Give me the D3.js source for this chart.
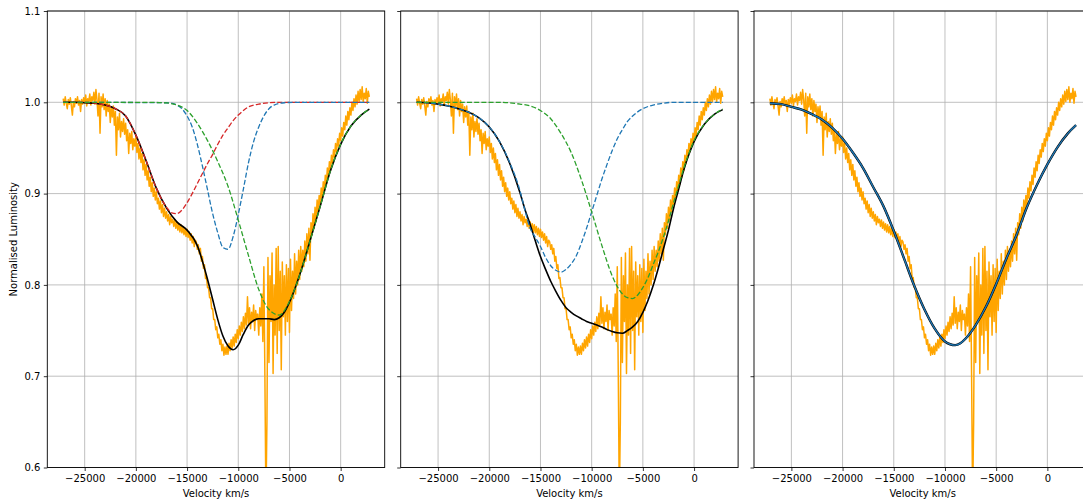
<!DOCTYPE html>
<html>
<head>
<meta charset="utf-8">
<script src="https://cdn.jsdelivr.net/npm/d3@7"></script>
<style>
  body { margin: 0; background: #fff; }
  text { font-family: "DejaVu Sans", sans-serif; fill: #000; }
</style>
</head>
<body>
<svg id="chart" width="1083" height="504"></svg>
<script>
const yTicks = [0.6, 0.7, 0.8, 0.9, 1.0, 1.1];
const xTicks = [-25000, -20000, -15000, -10000, -5000, 0];
const xLabel = "Velocity km/s";
const yLabel = "Normalised Luminosity";

// observed spectrum [velocity, normalised flux]
const spectrum = [
  [-27100,1.004],[-27000,0.997],[-26900,1.006],[-26800,0.999],[-26700,0.993],[-26600,1.003],[-26500,0.998],[-26400,1.005],[-26300,0.996],[-26200,0.986],
  [-26100,1.001],[-26000,0.995],[-25900,1.004],[-25800,0.999],[-25700,1.006],[-25600,0.997],[-25500,1.002],[-25400,0.990],[-25300,1.003],[-25200,0.998],
  [-25100,1.005],[-25000,0.999],[-24900,1.008],[-24800,0.996],[-24700,1.004],[-24600,1.001],[-24500,1.009],[-24400,0.997],[-24300,1.006],[-24200,1.002],
  [-24100,1.011],[-24000,0.998],[-23900,1.014],[-23800,1.003],[-23700,0.985],[-23600,1.010],[-23500,0.966],[-23400,1.006],[-23300,0.995],[-23200,1.009],
  [-23100,0.992],[-23000,1.004],[-22900,0.985],[-22800,1.002],[-22700,0.990],[-22600,0.998],[-22500,0.978],[-22400,0.995],[-22300,0.984],[-22200,0.996],
  [-22100,0.975],[-22000,0.990],[-21900,0.942],[-21800,0.984],[-21700,0.970],[-21600,0.988],[-21500,0.962],[-21400,0.979],[-21300,0.968],[-21200,0.982],
  [-21100,0.965],[-21000,0.977],[-20900,0.958],[-20800,0.970],[-20700,0.944],[-20600,0.966],[-20500,0.955],[-20400,0.968],[-20300,0.948],[-20200,0.960],
  [-20100,0.952],[-20000,0.962],[-19900,0.945],[-19800,0.955],[-19700,0.938],[-19600,0.950],[-19500,0.934],[-19400,0.944],[-19300,0.926],[-19200,0.937],
  [-19100,0.920],[-19000,0.932],[-18900,0.915],[-18800,0.925],[-18700,0.908],[-18600,0.918],[-18500,0.902],[-18400,0.912],[-18300,0.897],[-18200,0.906],
  [-18100,0.893],[-18000,0.902],[-17900,0.889],[-17800,0.895],[-17700,0.883],[-17600,0.892],[-17500,0.879],[-17400,0.888],[-17300,0.875],[-17200,0.884],
  [-17100,0.873],[-17000,0.880],[-16900,0.870],[-16800,0.877],[-16700,0.866],[-16600,0.875],[-16500,0.868],[-16400,0.872],[-16300,0.864],[-16200,0.871],
  [-16100,0.862],[-16000,0.869],[-15900,0.860],[-15800,0.867],[-15700,0.858],[-15600,0.866],[-15500,0.857],[-15400,0.864],[-15300,0.855],[-15200,0.862],
  [-15100,0.853],[-15000,0.861],[-14900,0.852],[-14800,0.858],[-14700,0.849],[-14600,0.856],[-14500,0.846],[-14400,0.853],[-14300,0.842],[-14200,0.849],
  [-14100,0.847],[-14000,0.839],[-13900,0.844],[-13800,0.834],[-13700,0.840],[-13600,0.826],[-13500,0.831],[-13400,0.818],[-13300,0.822],[-13200,0.807],
  [-13100,0.808],[-13000,0.797],[-12900,0.797],[-12800,0.786],[-12700,0.786],[-12600,0.774],[-12500,0.774],[-12400,0.762],[-12300,0.762],[-12200,0.751],
  [-12100,0.754],[-12000,0.742],[-11900,0.746],[-11800,0.735],[-11700,0.740],[-11600,0.728],[-11500,0.735],[-11400,0.723],[-11300,0.732],[-11200,0.724],
  [-11100,0.733],[-11000,0.724],[-10900,0.736],[-10800,0.728],[-10700,0.740],[-10600,0.731],[-10500,0.743],[-10400,0.733],[-10300,0.746],[-10200,0.737],
  [-10100,0.751],[-10000,0.741],[-9900,0.755],[-9800,0.745],[-9700,0.759],[-9600,0.749],[-9500,0.765],[-9400,0.752],[-9300,0.769],[-9200,0.756],
  [-9100,0.787],[-9000,0.758],[-8900,0.775],[-8800,0.752],[-8700,0.770],[-8600,0.760],[-8500,0.778],[-8400,0.750],[-8300,0.772],[-8200,0.762],
  [-8100,0.768],[-8000,0.745],[-7900,0.775],[-7800,0.755],[-7700,0.790],[-7600,0.738],[-7500,0.820],[-7400,0.700],[-7300,0.560],[-7200,0.650],
  [-7100,0.830],[-7000,0.715],[-6900,0.810],[-6800,0.760],[-6700,0.835],[-6600,0.703],[-6500,0.800],[-6400,0.745],[-6300,0.840],[-6200,0.725],
  [-6100,0.842],[-6000,0.750],[-5900,0.815],[-5800,0.707],[-5700,0.825],[-5600,0.765],[-5500,0.810],[-5400,0.745],[-5300,0.822],[-5200,0.760],
  [-5100,0.818],[-5000,0.748],[-4900,0.828],[-4800,0.772],[-4700,0.815],[-4600,0.785],[-4500,0.834],[-4400,0.790],[-4300,0.826],[-4200,0.800],
  [-4100,0.838],[-4000,0.806],[-3900,0.842],[-3800,0.815],[-3700,0.838],[-3600,0.820],[-3500,0.848],[-3400,0.826],[-3300,0.856],[-3200,0.834],
  [-3100,0.862],[-3000,0.827],[-2900,0.868],[-2800,0.855],[-2700,0.878],[-2600,0.862],[-2500,0.885],[-2400,0.870],[-2300,0.893],[-2200,0.880],
  [-2100,0.898],[-2000,0.888],[-1900,0.906],[-1800,0.895],[-1700,0.913],[-1600,0.903],[-1500,0.920],[-1400,0.910],[-1300,0.928],[-1200,0.918],
  [-1100,0.935],[-1000,0.925],[-900,0.942],[-800,0.933],[-700,0.948],[-600,0.940],[-500,0.955],[-400,0.946],[-300,0.960],[-200,0.952],
  [-100,0.966],[0,0.958],[100,0.972],[200,0.963],[300,0.978],[400,0.970],[500,0.985],[600,0.975],[700,0.990],[800,0.981],
  [900,0.994],[1000,0.986],[1100,1.000],[1200,0.991],[1300,1.004],[1400,0.995],[1500,1.008],[1600,0.998],[1700,1.012],[1800,1.001],
  [1900,1.014],[2000,1.003],[2100,1.017],[2200,1.000],[2300,1.010],[2400,1.004],[2500,1.015],[2600,0.999],[2700,1.012],[2800,1.006]
];

// panel 1: three-component fit
const fit1Total = [[-27100,1.000],[-26000,1.000],[-25000,0.9995],[-24000,0.999],[-23000,0.997],[-22000,0.993],[-21000,0.985],[-20000,0.964],[-19000,0.936],[-18000,0.906],[-17000,0.884],[-16000,0.869],[-15000,0.860],[-14000,0.843],[-13500,0.826],[-13000,0.806],[-12500,0.784],[-12000,0.762],[-11500,0.744],[-11000,0.733],[-10500,0.729],[-10000,0.734],[-9500,0.746],[-9000,0.756],[-8500,0.761],[-8000,0.763],[-7500,0.763],[-7000,0.763],[-6500,0.762],[-6000,0.764],[-5500,0.770],[-5000,0.781],[-4500,0.795],[-4000,0.811],[-3000,0.848],[-2000,0.886],[-1000,0.925],[0,0.954],[1000,0.974],[2000,0.986],[2800,0.9925]];
const fit1Red = [[-27100,1.000],[-25000,1.000],[-24000,0.999],[-23000,0.997],[-22000,0.993],[-21000,0.985],[-20000,0.964],[-19000,0.936],[-18000,0.906],[-17000,0.885],[-16500,0.879],[-16000,0.878],[-15500,0.882],[-15000,0.890],[-14500,0.900],[-14000,0.911],[-13500,0.922],[-13000,0.933],[-12500,0.943],[-12000,0.954],[-11500,0.964],[-11000,0.972],[-10500,0.980],[-10000,0.986],[-9500,0.991],[-9000,0.995],[-8000,0.998],[-7000,0.9995],[-6000,1.000],[2800,1.000]];
const fit1Blue = [[-27100,1.000],[-17000,0.9995],[-16000,0.997],[-15500,0.993],[-15000,0.985],[-14500,0.973],[-14000,0.954],[-13500,0.930],[-13000,0.904],[-12500,0.878],[-12000,0.857],[-11500,0.841],[-11000,0.839],[-10500,0.853],[-10000,0.877],[-9500,0.905],[-9000,0.934],[-8500,0.957],[-8000,0.973],[-7500,0.985],[-7000,0.993],[-6500,0.997],[-5500,0.9995],[-4500,1.000],[2800,1.000]];
const fit1Green = [[-27100,1.000],[-19000,1.000],[-18000,0.9998],[-17000,0.9993],[-16000,0.997],[-15000,0.991],[-14000,0.977],[-13000,0.958],[-12000,0.935],[-11000,0.908],[-10000,0.871],[-9000,0.832],[-8000,0.795],[-7000,0.773],[-6000,0.767],[-5000,0.782],[-4000,0.811],[-3000,0.848],[-2000,0.886],[-1000,0.925],[0,0.954],[1000,0.974],[2000,0.986],[2800,0.9925]];

// panel 2: two-component fit
const fit2Total = [[-27100,1.000],[-26000,0.9995],[-25000,0.998],[-24000,0.996],[-23000,0.993],[-22000,0.989],[-21000,0.983],[-20000,0.973],[-19000,0.957],[-18000,0.933],[-17000,0.901],[-16500,0.882],[-16000,0.866],[-15500,0.848],[-15000,0.831],[-14500,0.817],[-14000,0.804],[-13500,0.793],[-13000,0.783],[-12500,0.775],[-12000,0.770],[-11500,0.766],[-11000,0.763],[-10500,0.760],[-10000,0.758],[-9500,0.756],[-9000,0.754],[-8500,0.751],[-8000,0.749],[-7500,0.7475],[-7000,0.747],[-6500,0.750],[-6000,0.754],[-5500,0.760],[-5000,0.770],[-4500,0.783],[-4000,0.799],[-3500,0.818],[-3000,0.839],[-2500,0.860],[-2000,0.884],[-1500,0.905],[-1000,0.926],[-500,0.943],[0,0.957],[1000,0.976],[2000,0.987],[2800,0.992]];
const fit2Blue = [[-27100,1.000],[-26000,0.9995],[-25000,0.998],[-24000,0.996],[-23000,0.993],[-22000,0.989],[-21000,0.983],[-20000,0.973],[-19000,0.957],[-18000,0.934],[-17000,0.903],[-16500,0.881],[-16000,0.862],[-15500,0.852],[-15000,0.842],[-14500,0.830],[-14000,0.821],[-13500,0.816],[-13000,0.814],[-12500,0.817],[-12000,0.823],[-11500,0.832],[-11000,0.846],[-10500,0.862],[-10000,0.880],[-9500,0.898],[-9000,0.916],[-8500,0.932],[-8000,0.947],[-7500,0.960],[-7000,0.970],[-6500,0.979],[-6000,0.985],[-5000,0.993],[-4000,0.997],[-3000,0.999],[-2000,1.000],[2800,1.000]];
const fit2Green = [[-27100,1.000],[-19000,1.000],[-18000,0.9994],[-17000,0.998],[-16000,0.996],[-15000,0.991],[-14000,0.982],[-13000,0.966],[-12000,0.945],[-11000,0.915],[-10000,0.880],[-9000,0.843],[-8000,0.810],[-7000,0.790],[-6500,0.786],[-6000,0.785],[-5500,0.789],[-5000,0.797],[-4500,0.808],[-4000,0.822],[-3500,0.836],[-3000,0.852],[-2500,0.870],[-2000,0.890],[-1500,0.909],[-1000,0.928],[-500,0.944],[0,0.958],[1000,0.976],[2000,0.987],[2800,0.9925]];

// panel 3: single-component fit
const fit3Total = [[-27100,0.999],[-26000,0.998],[-25000,0.995],[-24000,0.992],[-23000,0.987],[-22000,0.981],[-21000,0.972],[-20000,0.960],[-19000,0.945],[-18000,0.928],[-17000,0.907],[-16000,0.886],[-15000,0.859],[-14000,0.829],[-13000,0.799],[-12000,0.773],[-11000,0.752],[-10000,0.738],[-9500,0.735],[-9000,0.734],[-8500,0.736],[-8000,0.741],[-7000,0.756],[-6000,0.776],[-5000,0.801],[-4000,0.829],[-3000,0.855],[-2000,0.885],[-1000,0.910],[0,0.932],[1000,0.951],[2000,0.966],[2800,0.975]];

const plotTop = 11, plotBottom = 467.5, panelWidth = 337.4;
const xDomain = [-28650, 4300];

const svg = d3.select('#chart');
svg.append('rect').attr('width', 1083).attr('height', 504).attr('fill', '#fff');

const y = d3.scaleLinear().domain([0.6, 1.1]).range([plotBottom, plotTop]);

const panels = [
  { left: 47.3, showY: true, lines: [
      { data: fit1Total, color: '#000000', width: 1.6 },
      { data: fit1Red, color: '#d62728', width: 1.3, dash: '5,2.2' },
      { data: fit1Blue, color: '#1f77b4', width: 1.3, dash: '5,2.2' },
      { data: fit1Green, color: '#2ca02c', width: 1.3, dash: '5,2.2' } ] },
  { left: 400.7, showY: false, lines: [
      { data: fit2Total, color: '#000000', width: 1.6 },
      { data: fit2Blue, color: '#1f77b4', width: 1.3, dash: '5,2.2' },
      { data: fit2Green, color: '#2ca02c', width: 1.3, dash: '5,2.2' } ] },
  { left: 754, showY: false, lines: [
      { data: fit3Total, color: '#000000', width: 2.4 },
      { data: fit3Total, color: '#1f77b4', width: 1.4 } ] }
];

panels.forEach((p, i) => {
  const x = d3.scaleLinear().domain(xDomain).range([p.left, p.left + panelWidth]);
  const g = svg.append('g').attr('class', 'panel-' + i);

  g.append('clipPath').attr('id', 'clip' + i)
    .append('rect')
    .attr('x', p.left).attr('y', plotTop)
    .attr('width', panelWidth).attr('height', plotBottom - plotTop);

  // grid
  g.append('g').selectAll('line').data(xTicks).join('line')
    .attr('x1', d => x(d)).attr('x2', d => x(d))
    .attr('y1', plotTop).attr('y2', plotBottom)
    .attr('stroke', '#b0b0b0').attr('stroke-width', 0.8);
  g.append('g').selectAll('line').data(yTicks).join('line')
    .attr('x1', p.left).attr('x2', p.left + panelWidth)
    .attr('y1', d => y(d)).attr('y2', d => y(d))
    .attr('stroke', '#b0b0b0').attr('stroke-width', 0.8);

  const plot = g.append('g').attr('clip-path', 'url(#clip' + i + ')');

  // spectrum
  plot.append('path')
    .datum(spectrum)
    .attr('d', d3.line().x(d => x(d[0])).y(d => y(d[1])))
    .attr('fill', 'none')
    .attr('stroke', '#ffa500')
    .attr('stroke-width', 1.5)
    .attr('stroke-linejoin', 'round');

  // fits
  const fitLine = d3.line().curve(d3.curveMonotoneX).x(d => x(d[0])).y(d => y(d[1]));
  p.lines.forEach(l => {
    plot.append('path')
      .datum(l.data)
      .attr('d', fitLine)
      .attr('fill', 'none')
      .attr('stroke', l.color)
      .attr('stroke-width', l.width)
      .attr('stroke-dasharray', l.dash || null);
  });

  // axes
  const xAxis = g.append('g')
    .attr('transform', 'translate(0,' + plotBottom + ')')
    .call(d3.axisBottom(x).tickValues(xTicks).tickSize(3.5).tickPadding(3.5).tickFormat(d3.format('d')));
  const yAxis = g.append('g')
    .attr('transform', 'translate(' + p.left + ',0)')
    .call(d3.axisLeft(y).tickValues(yTicks).tickSize(3.5).tickPadding(3.5)
      .tickFormat(p.showY ? d3.format('.1f') : () => ''));
  [xAxis, yAxis].forEach(a => {
    a.select('.domain').remove();
    a.selectAll('line').attr('stroke', '#000').attr('stroke-width', 0.8);
    a.selectAll('text').style('font-size', '10px').style('font-family', '"DejaVu Sans", sans-serif').attr('fill', '#000');
  });

  // spines
  g.append('rect')
    .attr('x', p.left).attr('y', plotTop)
    .attr('width', panelWidth).attr('height', plotBottom - plotTop)
    .attr('fill', 'none').attr('stroke', '#000').attr('stroke-width', 0.9);

  g.append('text')
    .attr('x', p.left + panelWidth / 2)
    .attr('y', 497)
    .attr('text-anchor', 'middle')
    .style('font-size', '10px')
    .text(xLabel);
});

svg.append('text')
  .attr('transform', 'translate(17,' + ((plotTop + plotBottom) / 2) + ') rotate(-90)')
  .attr('text-anchor', 'middle')
  .style('font-size', '10px')
  .text(yLabel);
</script>
</body>
</html>
